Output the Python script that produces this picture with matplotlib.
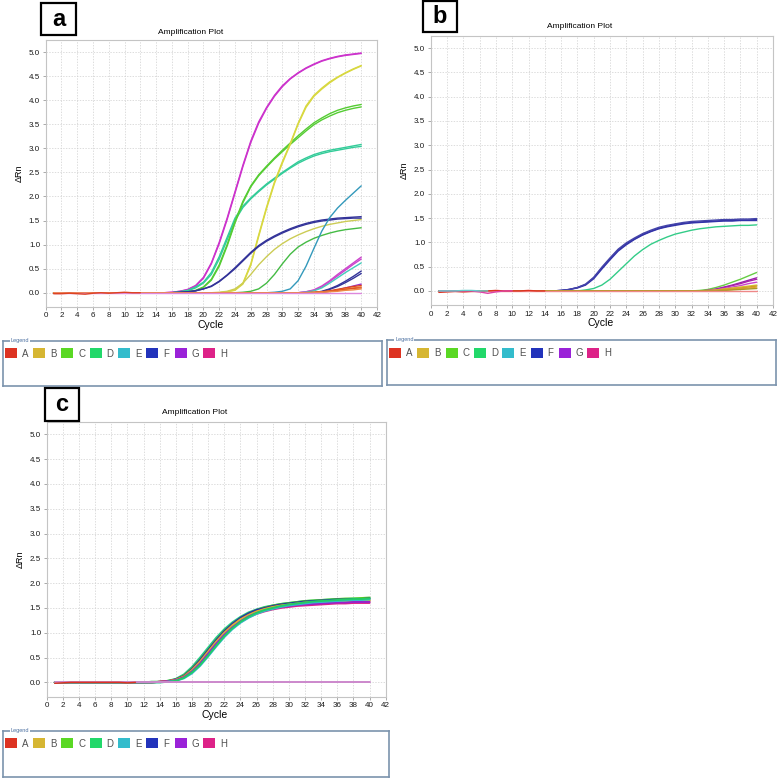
import matplotlib
matplotlib.use("Agg")
import matplotlib.pyplot as plt
from matplotlib.patches import Rectangle
import numpy as np

plt.rcParams['font.family'] = ['Liberation Sans', 'DejaVu Sans']

W, H = 778, 779
CYCLES = np.arange(1, 41)
WELLS = ["A", "B", "C", "D", "E", "F", "G", "H"]
WELL_COLORS = ["#dd3322", "#d6b632", "#5ad824", "#22d86a", "#33bccc", "#2233bb", "#9a22d8", "#dd2288"]

# ---- panel a: (colour, first cycle of listed values, dRn values) ----
a_curves = [
    ("#cc33cc", 16, [0.01, 0.03, 0.07, 0.15, 0.32, 0.62, 1.05, 1.55, 2.1, 2.65, 3.15, 3.55, 3.85, 4.1, 4.3,
                     4.45, 4.57, 4.67, 4.75, 4.82, 4.87, 4.91, 4.94, 4.96, 4.98]),
    ("#cc33cc", 16, [0.01, 0.03, 0.06, 0.14, 0.3, 0.6, 1.02, 1.52, 2.07, 2.62, 3.12, 3.52, 3.83, 4.08, 4.28,
                     4.44, 4.56, 4.66, 4.74, 4.81, 4.86, 4.9, 4.93, 4.95, 4.97]),
    ("#33cc99", 17, [0.02, 0.05, 0.12, 0.22, 0.42, 0.75, 1.15, 1.55, 1.8, 1.97, 2.12, 2.26, 2.38, 2.5, 2.61,
                     2.72, 2.8, 2.87, 2.92, 2.96, 2.99, 3.02, 3.05, 3.08]),
    ("#33cc99", 17, [0.02, 0.04, 0.1, 0.2, 0.38, 0.7, 1.1, 1.5, 1.77, 1.95, 2.1, 2.24, 2.36, 2.48, 2.59,
                     2.69, 2.77, 2.84, 2.89, 2.93, 2.96, 2.99, 3.02, 3.04]),
    ("#55cc33", 18, [0.02, 0.05, 0.12, 0.28, 0.58, 1.0, 1.48, 1.9, 2.22, 2.45, 2.63, 2.8, 2.96, 3.11, 3.26,
                     3.4, 3.53, 3.63, 3.72, 3.79, 3.84, 3.88, 3.91]),
    ("#55cc33", 18, [0.02, 0.04, 0.11, 0.26, 0.55, 0.97, 1.45, 1.87, 2.2, 2.43, 2.61, 2.78, 2.93, 3.08, 3.22,
                     3.36, 3.49, 3.59, 3.67, 3.74, 3.79, 3.83, 3.86]),
    ("#d8d840", 23, [0.02, 0.06, 0.2, 0.6, 1.2, 1.78, 2.3, 2.72, 3.1, 3.52, 3.88, 4.1, 4.25, 4.38, 4.48,
                     4.57, 4.65, 4.72]),
    ("#d8d840", 23, [0.02, 0.05, 0.18, 0.57, 1.17, 1.75, 2.27, 2.69, 3.08, 3.5, 3.85, 4.08, 4.23, 4.36, 4.47,
                     4.56, 4.64, 4.71]),
    ("#333399", 17, [0.01, 0.02, 0.04, 0.08, 0.14, 0.24, 0.37, 0.52, 0.68, 0.84, 0.98, 1.09, 1.18, 1.26, 1.33,
                     1.39, 1.44, 1.48, 1.51, 1.53, 1.55, 1.56, 1.57, 1.58]),
    ("#333399", 17, [0.01, 0.02, 0.04, 0.08, 0.13, 0.23, 0.36, 0.5, 0.66, 0.82, 0.96, 1.07, 1.16, 1.24, 1.31,
                     1.37, 1.42, 1.46, 1.49, 1.51, 1.53, 1.54, 1.55, 1.55]),
    ("#cccc55", 22, [0.01, 0.03, 0.08, 0.2, 0.38, 0.58, 0.75, 0.9, 1.02, 1.12, 1.2, 1.27, 1.33, 1.38, 1.42,
                     1.45, 1.48, 1.5, 1.52]),
    ("#44bb44", 25, [0.01, 0.03, 0.08, 0.2, 0.38, 0.6, 0.8, 0.95, 1.05, 1.13, 1.19, 1.24, 1.28, 1.31, 1.33,
                     1.35]),
    ("#3399bb", 29, [0.01, 0.03, 0.08, 0.25, 0.55, 0.92, 1.28, 1.56, 1.76, 1.92, 2.07, 2.22]),
    ("#cc44cc", 33, [0.02, 0.06, 0.14, 0.25, 0.38, 0.5, 0.62, 0.74]),
    ("#cc44cc", 33, [0.02, 0.05, 0.12, 0.23, 0.35, 0.47, 0.59, 0.7]),
    ("#44ccbb", 33, [0.01, 0.04, 0.1, 0.2, 0.31, 0.42, 0.52, 0.62]),
    ("#333399", 35, [0.03, 0.08, 0.15, 0.24, 0.34, 0.45]),
    ("#333399", 35, [0.02, 0.07, 0.13, 0.21, 0.3, 0.4]),
    ("#9933cc", 35, [0.01, 0.03, 0.06, 0.1, 0.14, 0.18]),
    ("#dd4422", 34, [0.01, 0.02, 0.04, 0.07, 0.1, 0.13, 0.15]),
    ("#ee7733", 34, [0.01, 0.02, 0.03, 0.05, 0.08, 0.1, 0.12]),
    ("#dd5522", 34, [0.0, 0.01, 0.03, 0.05, 0.07, 0.09, 0.1]),
    ("#ee8844", 35, [0.01, 0.02, 0.03, 0.05, 0.06, 0.08]),
    ("#dd88dd", 1, [0.0] * 40),
]
a_noise = ("#dd4422", 1, [-0.02, -0.02, -0.01, -0.02, -0.03, -0.01, 0.0, -0.01, 0.0, 0.01, 0.0, 0.0])

# ---- panel b ----
b_curves = [
    ("#333399", 15, [0.0, 0.01, 0.03, 0.07, 0.13, 0.27, 0.47, 0.66, 0.84, 0.97, 1.07, 1.16, 1.23, 1.29, 1.33,
                     1.37, 1.39, 1.41, 1.42, 1.43, 1.44, 1.45, 1.45, 1.46, 1.46, 1.47]),
    ("#3333aa", 15, [0.0, 0.01, 0.03, 0.06, 0.12, 0.25, 0.45, 0.64, 0.82, 0.95, 1.06, 1.15, 1.22, 1.28, 1.32,
                     1.35, 1.38, 1.4, 1.41, 1.42, 1.43, 1.44, 1.44, 1.45, 1.45, 1.45]),
    ("#4444aa", 15, [0.0, 0.01, 0.03, 0.07, 0.14, 0.28, 0.49, 0.68, 0.86, 0.99, 1.09, 1.18, 1.25, 1.31, 1.35,
                     1.38, 1.41, 1.43, 1.44, 1.45, 1.46, 1.47, 1.47, 1.48, 1.48, 1.49]),
    ("#33cc88", 18, [0.0, 0.02, 0.05, 0.12, 0.24, 0.4, 0.56, 0.72, 0.85, 0.96, 1.04, 1.11, 1.17, 1.21, 1.25,
                     1.28, 1.3, 1.32, 1.33, 1.34, 1.35, 1.35, 1.36]),
    ("#66cc44", 33, [0.01, 0.03, 0.07, 0.12, 0.18, 0.24, 0.31, 0.38]),
    ("#9922aa", 34, [0.01, 0.04, 0.08, 0.12, 0.17, 0.22, 0.27]),
    ("#aa22aa", 34, [0.01, 0.03, 0.07, 0.11, 0.15, 0.2, 0.24]),
    ("#cc44cc", 35, [0.02, 0.05, 0.08, 0.11, 0.15, 0.18]),
    ("#d8c030", 34, [0.01, 0.02, 0.04, 0.06, 0.08, 0.1, 0.12]),
    ("#c8a020", 34, [0.0, 0.01, 0.03, 0.04, 0.06, 0.08, 0.1]),
    ("#e0a030", 35, [0.01, 0.02, 0.03, 0.05, 0.06, 0.08]),
    ("#aa9922", 35, [0.0, 0.01, 0.02, 0.03, 0.04, 0.05]),
    ("#ee8888", 1, [0.0] * 40),
]
b_noise = [
    ("#dd3322", 1, [-0.03, -0.02, -0.01, -0.02, -0.01, -0.01, 0.0, 0.01, 0.0, 0.0, 0.0, 0.01, 0.0, 0.0]),
    ("#dd44aa", 4, [0.0, 0.0, -0.02, -0.05, -0.02, 0.0, 0.0]),
    ("#66cccc", 3, [0.0, 0.01, 0.01, 0.0, 0.0]),
]

# ---- panel c ----
c_curves = [
    ("#22cc88", 12, [0.0, 0.01, 0.01, 0.03, 0.07, 0.16, 0.31, 0.5, 0.7, 0.9, 1.07, 1.21, 1.32, 1.41, 1.47,
                     1.52, 1.55, 1.58, 1.6, 1.62, 1.64, 1.65, 1.66, 1.67, 1.68, 1.68, 1.69, 1.69, 1.7]),
    ("#55cc22", 12, [0.0, 0.01, 0.01, 0.03, 0.06, 0.14, 0.28, 0.46, 0.66, 0.86, 1.04, 1.18, 1.3, 1.39, 1.46,
                     1.51, 1.55, 1.58, 1.6, 1.62, 1.64, 1.65, 1.66, 1.67, 1.68, 1.69, 1.69, 1.7, 1.71]),
    ("#2233aa", 12, [0.0, 0.0, 0.01, 0.02, 0.06, 0.13, 0.27, 0.45, 0.65, 0.85, 1.03, 1.18, 1.3, 1.39, 1.46,
                     1.5, 1.54, 1.57, 1.59, 1.61, 1.63, 1.64, 1.65, 1.66, 1.67, 1.67, 1.68, 1.68, 1.69]),
    ("#dd9922", 12, [0.0, 0.0, 0.01, 0.02, 0.05, 0.12, 0.25, 0.42, 0.62, 0.82, 1.0, 1.15, 1.27, 1.36, 1.43,
                     1.48, 1.52, 1.55, 1.57, 1.59, 1.61, 1.62, 1.63, 1.64, 1.645, 1.65, 1.655, 1.66, 1.66]),
    ("#dd3322", 12, [0.0, 0.0, 0.01, 0.02, 0.05, 0.11, 0.23, 0.4, 0.6, 0.8, 0.98, 1.13, 1.25, 1.34, 1.41,
                     1.46, 1.5, 1.53, 1.55, 1.57, 1.58, 1.59, 1.6, 1.61, 1.62, 1.62, 1.63, 1.63, 1.64]),
    ("#d8c030", 12, [0.0, 0.0, 0.01, 0.02, 0.05, 0.11, 0.24, 0.41, 0.61, 0.81, 0.99, 1.14, 1.26, 1.35, 1.42,
                     1.47, 1.51, 1.54, 1.56, 1.58, 1.6, 1.61, 1.62, 1.63, 1.64, 1.64, 1.65, 1.65, 1.66]),
    ("#dd2288", 12, [0.0, 0.0, 0.01, 0.02, 0.04, 0.1, 0.21, 0.37, 0.56, 0.76, 0.94, 1.09, 1.21, 1.31, 1.38,
                     1.43, 1.47, 1.5, 1.52, 1.54, 1.55, 1.56, 1.57, 1.58, 1.59, 1.59, 1.6, 1.6, 1.6]),
    ("#9922cc", 12, [0.0, 0.0, 0.01, 0.02, 0.04, 0.1, 0.22, 0.38, 0.58, 0.78, 0.96, 1.11, 1.23, 1.33, 1.4,
                     1.45, 1.49, 1.52, 1.54, 1.56, 1.57, 1.58, 1.59, 1.6, 1.61, 1.61, 1.62, 1.62, 1.62]),
    ("#33bbcc", 12, [0.0, 0.0, 0.0, 0.01, 0.03, 0.08, 0.18, 0.33, 0.52, 0.72, 0.91, 1.07, 1.2, 1.3, 1.38,
                     1.44, 1.48, 1.52, 1.55, 1.57, 1.59, 1.61, 1.62, 1.63, 1.64, 1.65, 1.66, 1.66, 1.67]),
    ("#22cc66", 12, [0.0, 0.0, 0.0, 0.01, 0.03, 0.09, 0.2, 0.35, 0.54, 0.74, 0.93, 1.09, 1.22, 1.32, 1.4,
                     1.46, 1.5, 1.54, 1.57, 1.59, 1.61, 1.63, 1.64, 1.65, 1.66, 1.67, 1.68, 1.68, 1.69]),
    ("#cc88cc", 1, [0.0] * 40),
]
c_noise = ("#dd3322", 1, [-0.02, -0.01, 0.0, 0.0, 0.0, 0.0, 0.0, 0.0, 0.0, -0.01, 0.0])

YTICKS = np.arange(0, 5.01, 0.5)
XTICKS = np.arange(0, 43, 2)


def draw_curve(ax, spec, lw=1.0):
    color, start, vals = spec
    x = CYCLES[start - 1:start - 1 + len(vals)]
    y = np.array(vals, dtype=float)
    if start > 1:
        # cycles before the listed ones sit on the baseline
        x = np.concatenate([CYCLES[:start - 1], x])
        y = np.concatenate([np.zeros(start - 1), y])
    ax.plot(x, y, color=color, lw=lw, solid_capstyle="round")


def fbox(px_left, px_top, px_right, px_bottom):
    return [px_left / W, 1 - px_bottom / H, (px_right - px_left) / W, (px_bottom - px_top) / H]


def style_axes(ax):
    ax.set_xlim(0, 42)
    ax.set_ylim(-0.29, 5.25)
    ax.set_xticks(XTICKS)
    ax.set_yticks(YTICKS)
    ax.set_xticklabels([str(v) for v in XTICKS])
    ax.set_yticklabels([f"{v:.1f}" for v in YTICKS])
    ax.tick_params(labelsize=5.8, length=2, width=0.5, color="#888888", labelcolor="#1a1a1a", pad=2)
    ax.grid(True, color="#cfcfcf", lw=0.5, ls=(0, (2, 2)))
    ax.set_axisbelow(True)
    for s in ax.spines.values():
        s.set_color("#c4c4c4")
        s.set_linewidth(0.8)
    ax.set_ylabel("ΔRn", fontsize=6.5, labelpad=4)


def legend_box(fig, rect):
    lax = fig.add_axes(fbox(*rect))
    w = rect[2] - rect[0]
    h = rect[3] - rect[1]
    lax.set_xlim(0, w)
    lax.set_ylim(h, 0)
    lax.set_xticks([])
    lax.set_yticks([])
    for s in lax.spines.values():
        s.set_color("#7b93ad")
        s.set_linewidth(1.2)
    lax.text(8, 0, "Legend", fontsize=4, color="#4a6fa0", va="center", ha="left",
             bbox=dict(facecolor="white", edgecolor="none", pad=0.5))
    for i, (name, col) in enumerate(zip(WELLS, WELL_COLORS)):
        x0 = 2 + i * 28.3
        lax.add_patch(Rectangle((x0, 7.5), 12, 10, facecolor=col, edgecolor="none"))
        lax.text(x0 + 17, 13, name, fontsize=7, color="#505050", va="center", ha="left")


def panel_tag(fig, rect, label):
    l, t, r, b = rect
    fig.patches.append(Rectangle((l / W, 1 - b / H), (r - l) / W, (b - t) / H, transform=fig.transFigure,
                                 facecolor="white", edgecolor="black", lw=1.6, zorder=5))
    fig.text((l + r) / 2 / W, 1 - (t + b) / 2 / H, label, fontsize=17, fontweight="bold",
             ha="center", va="center", zorder=6)


fig = plt.figure(figsize=(W / 100, H / 100), dpi=100)

ax_a = fig.add_axes(fbox(45.7, 40, 377, 306.7))
ax_b = fig.add_axes(fbox(430.7, 36, 773, 305))
ax_c = fig.add_axes(fbox(46.7, 422, 385.7, 696.7))

for spec in a_curves:
    draw_curve(ax_a, spec)
draw_curve(ax_a, a_noise)
for spec in b_curves:
    draw_curve(ax_b, spec)
for spec in b_noise:
    draw_curve(ax_b, spec)
for spec in c_curves:
    draw_curve(ax_c, spec, lw=1.4)
draw_curve(ax_c, c_noise)

for ax in (ax_a, ax_b, ax_c):
    style_axes(ax)

# titles and axis names placed like the instrument software
fig.text(191 / W, 1 - 32 / H, "Amplification Plot", fontsize=6, ha="center", va="center")
fig.text(580 / W, 1 - 27 / H, "Amplification Plot", fontsize=6, ha="center", va="center")
fig.text(195 / W, 1 - 413 / H, "Amplification Plot", fontsize=6, ha="center", va="center")
fig.text(211 / W, 1 - 325 / H, "Cycle", fontsize=7.5, ha="center", va="center")
fig.text(601 / W, 1 - 323 / H, "Cycle", fontsize=7.5, ha="center", va="center")
fig.text(215 / W, 1 - 715 / H, "Cycle", fontsize=7.5, ha="center", va="center")

legend_box(fig, (2.7, 340.7, 381.7, 386))
legend_box(fig, (387, 340, 776, 385))
legend_box(fig, (2.7, 730.7, 389, 777))

panel_tag(fig, (41, 3, 76, 35), "a")
panel_tag(fig, (422.7, 0.8, 457.3, 32), "b")
panel_tag(fig, (45, 388, 79, 421), "c")

fig.savefig("out.png", dpi=100, facecolor="white")
